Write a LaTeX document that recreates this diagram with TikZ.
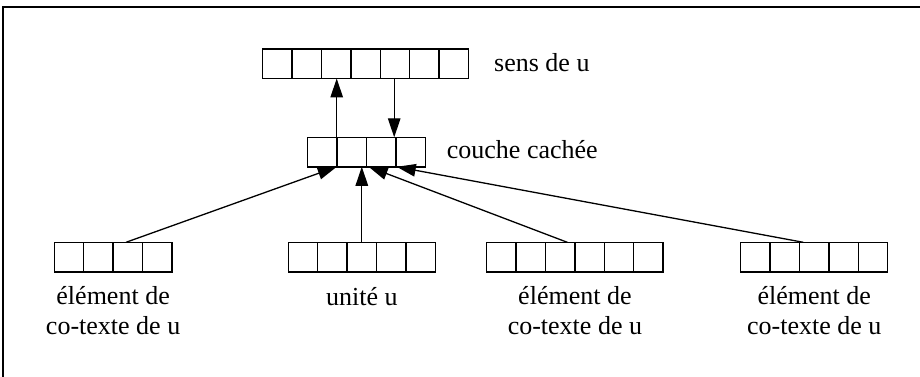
\documentclass[tikz,border=0pt]{standalone}
\usepackage{fontspec}
\setmainfont{Liberation Serif}
\usetikzlibrary{arrows.meta,calc}
\tikzset{
  box/.style={line width=1.4pt},
  arr/.style={draw, line width=1.4pt, minimum height=29.5pt, inner sep=0pt, outer sep=0pt},
  conn/.style={line width=1.3pt, -{Triangle[length=19pt,width=12.5pt]}},
  lbl/.style={font=\fontsize{26}{30}\selectfont, inner sep=0pt},
  frame/.style={line width=1.4pt}
}
\begin{document}
\begin{tikzpicture}[x=1pt,y=-1pt]
\useasboundingbox (0,0) rectangle (920,377);
\draw[frame] (3,377) -- (3,7) -- (920,7);
\foreach \nm/\x/\y/\n in {top/262.7/49/7, hid/307.7/137.3/4, a1/54.3/242.3/4, a2/288.3/242.3/5, a3/486.7/242.3/6, a4/740.7/242.3/5} {
  \node[arr, minimum width=\n*29.4pt, anchor=north west] (\nm) at (\x,\y) {};
  \pgfmathtruncatemacro\m{\n-1}
  \foreach \i in {1,...,\m}
    \draw[box] ($(\nm.north west)+(\i*29.4,0)$) -- ($(\nm.south west)+(\i*29.4,0)$);
}
% top <-> hidden
\coordinate (h1) at ($(hid.north west)+(29,0)$);
\coordinate (t5) at ($(top.south west)+(131.5,0)$);
\draw[conn] (h1) -- (h1 |- top.south);
\draw[conn] (t5) -- (t5 |- hid.north);
% inputs
\coordinate (s1) at ($(a1.north west)+(71.7,0)$);
\coordinate (e1) at ($(hid.south west)+(29,0)$);
\coordinate (s3) at ($(a3.north west)+(80.6,0)$);
\coordinate (e3) at ($(hid.south west)+(61,0)$);
\coordinate (s4) at ($(a4.north west)+(62.6,0)$);
\coordinate (e4) at ($(hid.south west)+(89,0)$);
\draw[conn] (s1) -- (e1);
\draw[conn] (a2.north) -- (a2.north |- hid.south);
\draw[conn] (s3) -- (e3);
\draw[conn] (s4) -- (e4);
% labels
\node[lbl, anchor=base west] (l0) at (494,71.7) {sens de u};
\node[lbl, anchor=base west] (l1) at (446.7,158) {couche cachée};
\node[lbl, align=center, anchor=base] (b1) at ($(a1.south)+(0,63)$) {élément de\\co-texte de u};
\node[lbl, align=center, anchor=base] (b2) at ($(a2.south)+(0,34)$) {unité u};
\node[lbl, align=center, anchor=base] (b3) at ($(a3.south)+(0,63)$) {élément de\\co-texte de u};
\node[lbl, align=center, anchor=base] (b4) at ($(a4.south)+(0,63)$) {élément de\\co-texte de u};
\end{tikzpicture}
\end{document}
